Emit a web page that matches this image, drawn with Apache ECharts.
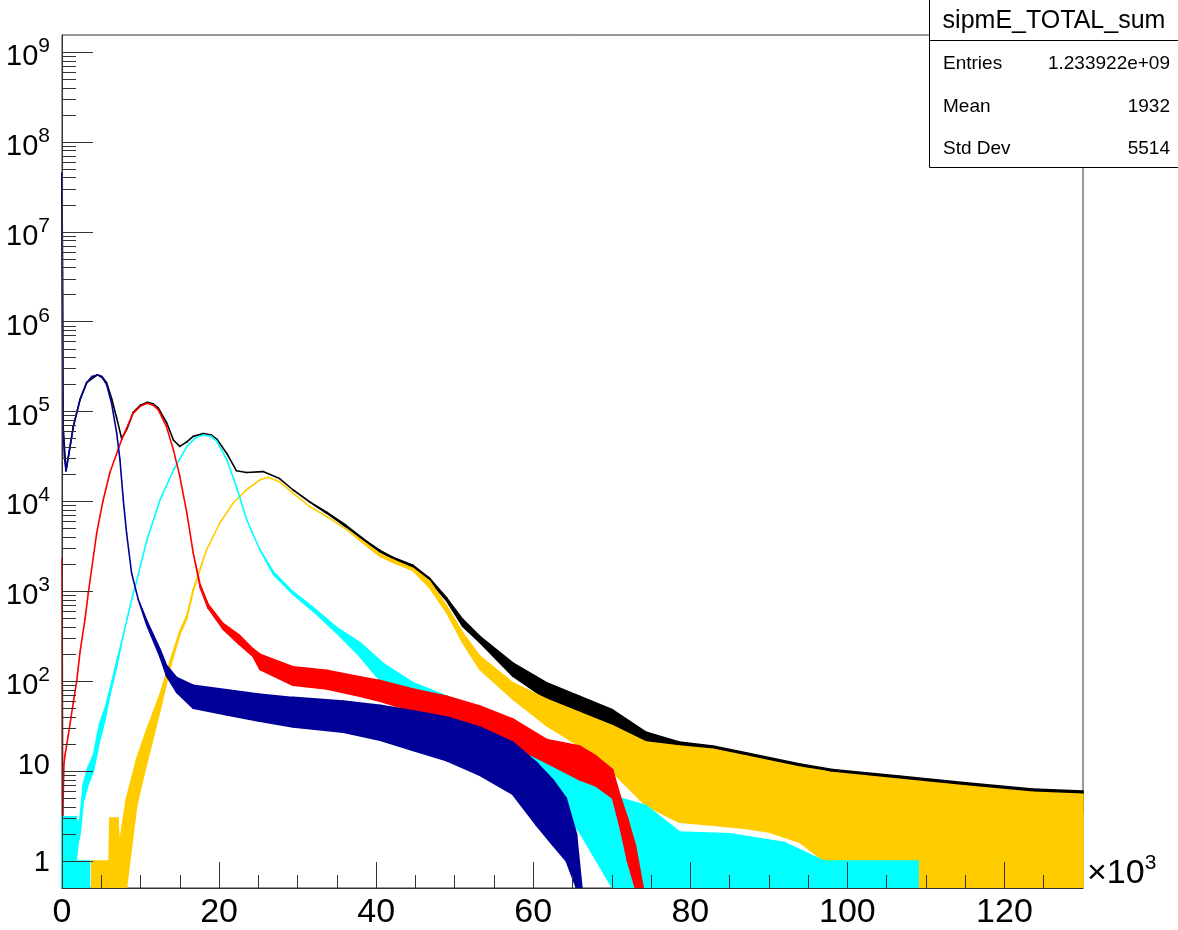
<!DOCTYPE html>
<html>
<head>
<meta charset="utf-8">
<script src="https://cdn.jsdelivr.net/npm/echarts@6/dist/echarts.min.js"></script>
<style>html,body{margin:0;padding:0;background:#fff}#c{width:1178px;height:930px}</style>
</head>
<body>
<div id="c"></div>
<script>
// ---------------- data (x in units of 10^3) ----------------
const X_MAX = 130000;
const Y_MIN = 0.5, Y_MAX = 1.55e9;
const xMajorTicks = [0, 20, 40, 60, 80, 100, 120];
const xMinorTicks = [5,10,15,25,30,35,45,50,55,65,70,75,85,90,95,105,110,115,125];
const yDecades = [0,1,2,3,4,5,6,7,8,9];
const yMinorMult = [2,3,4,5,6,7,8,9];

// each point: [x (x10^3), lower edge of trace, upper edge of trace] (upper omitted = thin line)
const blackPts = [[0,4.5e7],[0.13,7e4],[0.51,2.2e4],[0.9,3.5e4],[1.44,6.8e4],[2.29,1.36e5],[3.14,2.1e5],[4.5,2.57e5],[5.1,2.45e5],[5.68,2.1e5],[6.32,1.4e5],[6.96,8.5e4],[7.6,5.0e4],[8.3,6.5e4],[9.07,9.8e4],[10.0,1.18e5],[10.86,1.27e5],[11.6,1.22e5],[12.25,1.1e5],[13.3,7.6e4],[14.2,4.8e4],[15,4.1e4],[15.9,4.6e4],[16.7,5.3e4],[18,5.7e4],[19,5.5e4],[19.7,4.95e4],[21,3.4e4],[22.2,2.2e4],[23.5,2.1e4],[25.6,2.15e4],[27.7,1.8e4],[29.4,1.35e4],[31.6,9.8e3],[33.7,7.4e3,7.6e3],[36.2,5.2e3,5.4e3],[38.8,3.5e3,3.6e3],[40.5,2.75e3,2.85e3],[42.1,2.3e3,2.4e3],[44.7,1.85e3,1.95e3],[46.8,1.3e3,1.4e3],[49,780,840],[51,410,490],[53.2,270,316],[57.4,114,160],[61.7,63,96],[65.9,45,68],[70.1,29,48],[74.4,17.5,27],[78.6,14.7,21],[82.9,12.4,19],[87.1,11.3,16],[94,8,12],[98.1,6,10.4],[106.6,5,8.8],[115.1,4,7.4],[123.6,3.5,6.3],[130,3.5,6]];

const yellowPts = [[3.8,0.5,1],[6.0,0.5,1],[6.1,0.5,3],[7.1,0.5,3],[7.3,0.5,1.5],[8.2,0.5,4.9],[9.5,4.1,13.5],[10.8,12.4,29],[12.5,48,72],[13.7,135,160],[15.0,330,360],[15.9,500,540],[16.7,1000,1050],[18.4,2.9e3],[20.1,5.76e3],[21.8,9.6e3],[23.5,1.35e4],[25.2,1.74e4],[26.2,1.86e4],[27.7,1.66e4],[29.4,1.24e4],[31.6,8.7e3],[33.7,6.8e3],[36.2,4.9e3],[38.8,3.2e3,3.35e3],[40.5,2.45e3,2.6e3],[42.1,2.1e3,2.25e3],[44.7,1.7e3,1.8e3],[46.8,1.1e3,1.3e3],[49,575,680],[51,270,346],[53.2,135,190],[57.4,63,96],[61.7,32,63],[65.9,19,45],[70.1,9.7,32],[74.4,4.1,21],[78.6,2.7,19],[82.9,2.5,17.5],[87.1,2.3,14.7],[90,2.1,13],[94,1.6,11],[97,1,10],[98.1,0.5,9.6],[106.6,0.5,8.1],[115.1,0.5,6.8],[123.6,0.5,5.8],[130,0.5,5.5]];

const cyanPts = [[0,1,3.1],[1.8,1,3.1],[2.0,1.5,2.5],[2.3,2,3],[2.7,4.5,7],[3.3,7,11],[4.0,10,15],[4.8,22,34],[5.5,38,50],[6.1,70,80],[7.0,150,170],[7.7,300],[8.3,500],[9.0,900],[9.5,1300],[10.8,3700],[12.5,1.05e4],[14.2,2.24e4],[15.9,4.1e4],[17.0,5.1e4],[18.0,5.5e4],[19.0,5.3e4],[19.7,4.7e4],[21,2.9e4],[22.2,1.47e4],[23.5,6.3e3],[25.2,2.9e3],[26.9,1.55e3,1.65e3],[29.4,930,990],[32,600,660],[34.9,350,400],[37.9,190,270],[41,90,155],[44.7,53,96],[49,32,68],[53.2,19,45],[57.4,10.4,29],[61.7,4.9,17.5],[63.8,3.5,13.5],[65.9,2.1,9.7],[70.1,0.5,5.3],[74.4,0.5,4.1],[78.6,0.5,2.1],[85,0.5,2],[92,0.5,1.6],[97,0.5,1]];
const cyanFloorPts = [[0,0.5,1],[3.5,0.5,1]];
const cyanTailPts = [[97,0.5,1],[109,0.5,1]];

const redPts = [[0,2300],[0.1,3.2],[0.25,12],[0.38,15],[0.8,25],[1.44,58],[1.87,100],[2.29,209],[2.93,490],[3.35,960],[4.41,4400],[5.2,1.0e4],[6.1,2.1e4],[7.6,4.9e4],[9.07,9.6e4],[10.0,1.15e5],[10.86,1.24e5],[11.6,1.18e5],[12.25,1.05e5],[13.3,6.8e4],[14.2,3.7e4],[15,1.9e4],[15.9,7.4e3],[16.7,2.7e3],[17.6,1100,1180],[18.6,650,720],[20.5,380,440],[22.5,260,330],[24.3,190,230],[25.2,135,200],[29.4,90,145],[33.7,82,132],[37.9,68,112],[40.5,60,102],[44.7,46,82],[49,36,68],[53.2,27,53],[57.4,19,38],[61.7,12.4,22.5],[65.9,8,19],[68,6.8,14.7],[70.1,5,10.4],[71,2.5,5.5],[72,1,3],[73,0.5,1.5],[74,0.5]];

const bluePts = [[0,4.5e7],[0.06,3.5e6],[0.13,7e4],[0.3,3.2e4],[0.51,2.2e4],[0.9,3.5e4],[1.44,6.8e4],[2.29,1.35e5],[3.14,2.09e5],[3.8,2.45e5],[4.5,2.56e5],[5.1,2.4e5],[5.68,2.0e5],[6.32,1.23e5],[6.96,5.8e4],[7.38,2.9e4],[7.8,1.05e4],[8.23,4.4e3],[8.86,1.6e3],[9.71,810],[10.8,420,470],[12.5,185,225],[13.3,115,150],[14.6,75,110],[16.7,50,90],[21,42,80],[25,36,72],[29.4,31,66],[35.8,27,60],[40.5,22,54],[44.7,17,47],[49,13,40],[53.2,9,31],[57.4,5.5,21],[60.4,2.5,12.5],[62.5,1.5,8],[64.2,1,5],[65.5,0.5,2],[66.2,0.5]];

const statsTitle = 'sipmE_TOTAL_sum';
const statsRows = [['Entries','1.233922e+09'],['Mean','1932'],['Std Dev','5514']];

// ---------------- chart ----------------
const FONT = "'Liberation Sans', Arial, Helvetica, sans-serif";
const AX = '#333';

// a trace drawn as a band between its lower and upper edge, one quad per segment
function band(name, pts, color, opacity) {
  const segs = [];
  for (let i = 0; i + 1 < pts.length; i++) {
    const a = pts[i], b = pts[i + 1];
    segs.push([a[0] * 1000, a[1], a.length > 2 ? a[2] : a[1], b[0] * 1000, b[1], b.length > 2 ? b[2] : b[1]]);
  }
  return {
    type: 'custom', name: name, silent: true, animation: false,
    xAxisIndex: 0, yAxisIndex: 0,
    encode: { x: [0, 3], y: [1, 2, 4, 5] },
    data: segs,
    renderItem: function (params, api) {
      const p0l = api.coord([api.value(0), api.value(1)]);
      const p0h = api.coord([api.value(0), api.value(2)]);
      const p1l = api.coord([api.value(3), api.value(4)]);
      const p1h = api.coord([api.value(3), api.value(5)]);
      return {
        type: 'polygon',
        shape: { points: [p0l, p1l, p1h, p0h] },
        style: { fill: color, stroke: color, lineWidth: 1.6, opacity: opacity, lineJoin: 'round' }
      };
    }
  };
}

const yMajorVals = yDecades.map(k => Math.pow(10, k));
const yMinorVals = [];
for (let k = 0; k <= 8; k++) for (const m of yMinorMult) yMinorVals.push(m * Math.pow(10, k));

const series = [
  band('black', blackPts, '#000000', 1),
  band('yellow', yellowPts, '#ffcc00', 1),
  band('cyanFloor', cyanFloorPts, '#00ffff', 1),
  band('cyanTail', cyanTailPts, '#00ffff', 1),
  band('cyan', cyanPts, '#00ffff', 1),
  band('red', redPts, '#ff0000', 1),
  band('blue', bluePts, '#000099', 1)
];

const textEls = [
  { type: 'text', x: 1054, y: 21, z: 102,
    style: { text: statsTitle, font: '25px ' + FONT, fill: '#000', align: 'center', verticalAlign: 'middle', textAlign: 'center', textVerticalAlign: 'middle' } }
];
const rowY = [64, 107, 149];
statsRows.forEach((r, i) => {
  textEls.push({ type: 'text', x: 943, y: rowY[i], z: 102,
    style: { text: r[0], font: '19px ' + FONT, fill: '#000', align: 'left', verticalAlign: 'middle', textAlign: 'left', textVerticalAlign: 'middle' } });
  textEls.push({ type: 'text', x: 1170, y: rowY[i], z: 102,
    style: { text: r[1], font: '19px ' + FONT, fill: '#000', align: 'right', verticalAlign: 'middle', textAlign: 'right', textVerticalAlign: 'middle' } });
});

const option = {
  animation: false,
  backgroundColor: '#ffffff',
  grid: { left: 62, top: 35, right: 95, bottom: 42, show: true, borderColor: AX, borderWidth: 1,
          backgroundColor: 'transparent', containLabel: false, outerBoundsMode: 'none' },
  xAxis: [
    { type: 'value', min: 0, max: X_MAX, z: 5, position: 'bottom',
      axisLine: { show: true, onZero: false, lineStyle: { color: AX, width: 1 } },
      axisTick: { show: true, inside: true, length: 26, customValues: xMajorTicks.map(v => v * 1000), lineStyle: { color: AX, width: 1 } },
      axisLabel: { show: true, customValues: xMajorTicks.map(v => v * 1000), margin: 8, fontSize: 34, fontFamily: FONT, color: '#000',
                   formatter: v => String(Math.round(v / 1000)) },
      splitLine: { show: false },
      name: '\u00d710{s|3}', nameLocation: 'end', nameGap: 4,
      nameTextStyle: { fontSize: 34, fontFamily: FONT, color: '#000', padding: [0, 0, 28, 0], align: 'left',
                       rich: { s: { fontSize: 21, fontFamily: FONT, color: '#000', padding: [0, 0, 21, 0] } } }
    },
    { type: 'value', min: 0, max: X_MAX, z: 5, position: 'bottom',
      axisLine: { show: false, onZero: false },
      axisTick: { show: true, inside: true, length: 13, customValues: xMinorTicks.map(v => v * 1000), lineStyle: { color: AX, width: 1 } },
      axisLabel: { show: false }, splitLine: { show: false } }
  ],
  yAxis: [
    { type: 'log', logBase: 10, min: Y_MIN, max: Y_MAX, z: 5, position: 'left',
      axisLine: { show: true, onZero: false, lineStyle: { color: AX, width: 1 } },
      axisTick: { show: true, inside: true, length: 31, customValues: yMajorVals, lineStyle: { color: AX, width: 1 } },
      axisLabel: { show: true, customValues: yMajorVals, margin: 12, fontSize: 29, fontFamily: FONT, color: '#000',
        formatter: v => {
          const k = Math.round(Math.log10(v));
          if (k === 0) return '{p1|1}';
          if (k === 1) return '{p10|10}';
          return '{b|10}{sup|' + k + '}';
        },
        rich: {
          b: { fontSize: 29, fontFamily: FONT, color: '#000', padding: [10, 0, 0, 0] },
          sup: { fontSize: 21, fontFamily: FONT, color: '#000', padding: [0, 0, 12, 0] },
          p10: { fontSize: 29, fontFamily: FONT, color: '#000', padding: [0, 0, 10, 0] },
          p1: { fontSize: 29, fontFamily: FONT, color: '#000', padding: [4, 0, 0, 0] }
        } },
      splitLine: { show: false }, minorTick: { show: false }
    },
    { type: 'log', logBase: 10, min: Y_MIN, max: Y_MAX, z: 5, position: 'left', offset: 0,
      axisLine: { show: false, onZero: false },
      axisTick: { show: true, inside: true, length: 14, customValues: yMinorVals, lineStyle: { color: AX, width: 1 } },
      axisLabel: { show: false }, splitLine: { show: false } }
  ],
  graphic: { elements: [
    { type: 'rect', shape: { x: 929.5, y: -1, width: 252, height: 168.5 }, style: { fill: '#fff', stroke: '#000', lineWidth: 1 }, z: 100 },
    { type: 'line', shape: { x1: 929, y1: 40.5, x2: 1178, y2: 40.5 }, style: { stroke: '#000', lineWidth: 1 }, z: 101 }
  ].concat(textEls) },
  series: series
};

const chart = echarts.init(document.getElementById('c'), null, { renderer: 'canvas', width: 1178, height: 930 });
chart.setOption(option);
</script>
</body>
</html>
